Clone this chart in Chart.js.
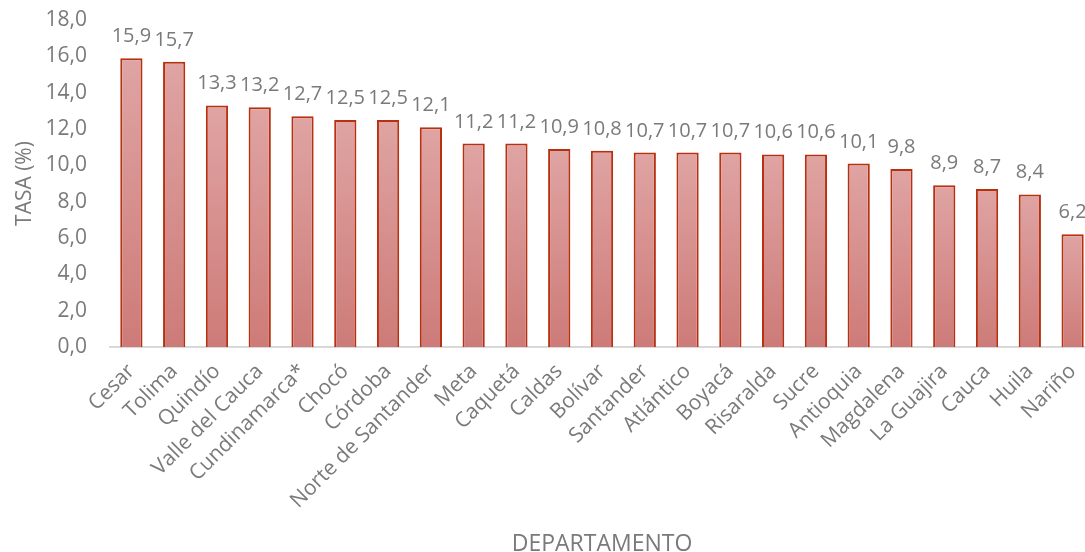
<!DOCTYPE html>
<html>
<head>
<meta charset="utf-8">
<script src="https://cdn.jsdelivr.net/npm/chart.js@4/dist/chart.umd.min.js"></script>
<style>
  html, body { margin: 0; padding: 0; background: #fff; overflow: hidden; }
  #wrap { position: relative; width: 1100px; height: 552px; }
</style>
</head>
<body>
<div id="wrap"><canvas id="chart"></canvas></div>
<script>
// Tasa por departamento
const departamentos = ['Cesar', 'Tolima', 'Quindío', 'Valle del Cauca', 'Cundinamarca*', 'Chocó', 'Córdoba',
    'Norte de Santander', 'Meta', 'Caquetá', 'Caldas', 'Bolívar', 'Santander', 'Atlántico', 'Boyacá',
    'Risaralda', 'Sucre', 'Antioquia', 'Magdalena', 'La Guajira', 'Cauca', 'Huila', 'Nariño'];
const tasas = [15.9, 15.7, 13.3, 13.2, 12.7, 12.5, 12.5, 12.1, 11.2, 11.2, 10.9, 10.8, 10.7, 10.7, 10.7,
    10.6, 10.6, 10.1, 9.8, 8.9, 8.7, 8.4, 6.2];
const yMin = 0, yMax = 18, yStep = 2;

const grey = '#7a7a7a';
const fontFam = '"Open Sans", sans-serif';
const fmt = v => Number(v).toFixed(1).replace('.', ',');

// etiquetas encima de cada barra
const valueLabels = {
    id: 'valueLabels',
    afterDatasetsDraw(chart) {
        const ctx = chart.ctx;
        const meta = chart.getDatasetMeta(0);
        ctx.save();
        ctx.fillStyle = grey;
        ctx.font = '20px ' + fontFam;
        ctx.textAlign = 'center';
        ctx.textBaseline = 'alphabetic';
        meta.data.forEach((bar, i) => {
            ctx.fillText(fmt(tasas[i]), bar.x, bar.y - 16);
        });
        ctx.restore();
    }
};

new Chart(document.getElementById('chart'), {
    type: 'bar',
    data: {
        labels: departamentos,
        datasets: [{
            label: 'TASA (%)',
            data: tasas,
            backgroundColor: function(c) {
                const chart = c.chart;
                if (!chart.chartArea) return '#d68f8d';
                const y = chart.scales.y;
                const top = y.getPixelForValue(c.raw);
                const base = y.getPixelForValue(0);
                const g = chart.ctx.createLinearGradient(0, top, 0, base);
                g.addColorStop(0, '#dfa4a3');
                g.addColorStop(1, '#cd7b78');
                return g;
            },
            borderColor: '#b8300f',
            borderWidth: 2,
            categoryPercentage: 1,
            barPercentage: 0.52
        }]
    },
    options: {
        responsive: true,
        maintainAspectRatio: false,
        animation: false,
        layout: { padding: { top: 20, right: 6, left: 0, bottom: 0 } },
        plugins: {
            legend: { display: false },
            tooltip: { enabled: false }
        },
        scales: {
            x: {
                grid: { display: false, drawTicks: false },
                border: { display: true, color: '#d9d9d9', width: 2 },
                ticks: {
                    color: grey,
                    font: { family: fontFam, size: 21 },
                    autoSkip: false,
                    maxRotation: 45,
                    minRotation: 45,
                    padding: 12
                },
                title: {
                    display: true,
                    text: 'DEPARTAMENTO',
                    color: grey,
                    font: { family: fontFam, size: 23 },
                    padding: { top: 0, bottom: -6 }
                },
                afterFit(scale) {
                    scale.height = 205;
                    scale.paddingLeft = 0;
                    scale.paddingRight = 0;
                }
            },
            y: {
                min: yMin,
                max: yMax,
                grid: { display: false, drawTicks: false },
                border: { display: false },
                ticks: {
                    stepSize: yStep,
                    color: grey,
                    font: { family: fontFam, size: 21 },
                    padding: 23,
                    callback: v => fmt(v)
                },
                title: {
                    display: true,
                    text: 'TASA (%)',
                    color: grey,
                    font: { family: fontFam, size: 21 },
                    padding: { top: 12, bottom: 0 }
                },
                afterFit(scale) {
                    scale.width = 110;
                    scale.paddingTop = 0;
                    scale.paddingBottom = 0;
                }
            }
        }
    },
    plugins: [valueLabels]
});
</script>
</body>
</html>
